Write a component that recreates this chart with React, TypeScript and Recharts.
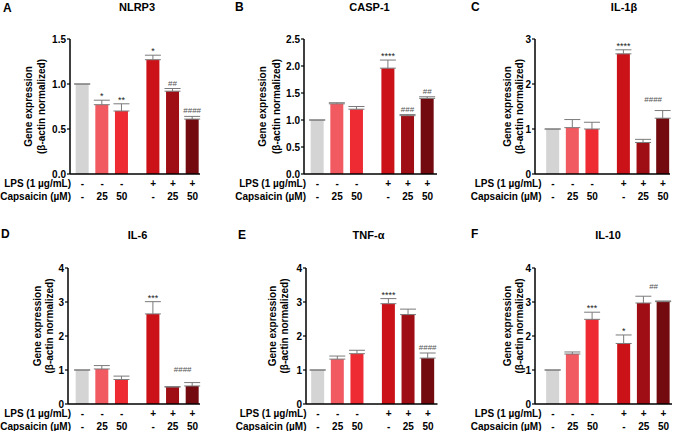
import React from 'react';
import { BarChart, Bar, XAxis, YAxis, ErrorBar, Cell, LabelList, ReferenceLine, ReferenceDot } from 'recharts';

// treatment rows shown under each x axis
const LPS = ['-', '-', '-', '+', '+', '+'];
const CAPSAICIN = ['-', '25', '50', '-', '25', '50'];
const BAR_COLORS = ['#d4d4d4', '#f25a61', '#ee2a32', '#cc1219', '#a00e15', '#720a0f'];

const nlrp3Mean = [1.0, 0.77, 0.70, 1.27, 0.92, 0.61];
const nlrp3Sem = [0, 0.05, 0.08, 0.05, 0.03, 0.03];
const nlrp3Sig = ['', '*', '**', '*', '##', '####'];
const nlrp3Ticks = [0, 0.5, 1.0, 1.5];

const casp1Mean = [1.0, 1.30, 1.20, 1.96, 1.08, 1.40];
const casp1Sem = [0, 0.02, 0.05, 0.15, 0.02, 0.03];
const casp1Sig = ['', '', '', '****', '###', '##'];
const casp1Ticks = [0, 0.5, 1.0, 1.5, 2.0, 2.5];

const il1bMean = [1.0, 1.03, 1.0, 2.67, 0.70, 1.24];
const il1bSem = [0, 0.18, 0.15, 0.09, 0.07, 0.17];
const il1bSig = ['', '', '', '****', '', ''];
const il1bTicks = [0, 1, 2, 3];

const il6Mean = [1.0, 1.03, 0.72, 2.65, 0.50, 0.53];
const il6Sem = [0, 0.10, 0.10, 0.36, 0.01, 0.10];
const il6Sig = ['', '', '', '***', '', ''];
const il6Ticks = [0, 1, 2, 3, 4];

const tnfaMean = [1.0, 1.32, 1.48, 2.95, 2.63, 1.35];
const tnfaSem = [0, 0.09, 0.10, 0.15, 0.16, 0.15];
const tnfaSig = ['', '', '', '****', '', '####'];
const tnfaTicks = [0, 1, 2, 3, 4];

const il10Mean = [1.0, 1.47, 2.49, 1.78, 2.97, 3.01];
const il10Sem = [0, 0.06, 0.21, 0.25, 0.20, 0.02];
const il10Sig = ['', '', '***', '*', '', ''];
const il10Ticks = [0, 1, 2, 3, 4];

// bracket over the two LPS + capsaicin groups
const il1bBracket = { y: 1.51, label: '####' };
const il6Bracket = { y: 0.83, label: '####' };
const il10Bracket = { y: 3.27, label: '##' };

const FONT = '"Liberation Sans", Arial, sans-serif';
const GROUP_GAP = 0.6;
const M_TOP = 15;
const M_LEFT = 45;
const M_RIGHT = 6;
const Y_W = 30;
const X_H = 34;

const xPos = (i: number) => i + (i >= 3 ? GROUP_GAP : 0);
const X_TICKS = LPS.map((_, i) => xPos(i));

const panels = [
  { letter: 'A', title: 'NLRP3', mean: nlrp3Mean, sem: nlrp3Sem, sig: nlrp3Sig, ticks: nlrp3Ticks, digits: 1,
    axisX: 70, first: 82.5, last: 192.5, right: 200, top: 39, bottom: 174,
    letterPos: [3, 12], titlePos: [137, 11], ylab: [28, 41, 106.5] },
  { letter: 'B', title: 'CASP-1', mean: casp1Mean, sem: casp1Sem, sig: casp1Sig, ticks: casp1Ticks, digits: 1,
    axisX: 304, first: 317.5, last: 427.5, right: 437, top: 39, bottom: 174,
    letterPos: [235, 11], titlePos: [369.5, 11], ylab: [262.5, 276, 106.5] },
  { letter: 'C', title: 'IL-1β', mean: il1bMean, sem: il1bSem, sig: il1bSig, ticks: il1bTicks, digits: 0, bracket: il1bBracket,
    axisX: 535, first: 553, last: 663, right: 670, top: 39, bottom: 174,
    letterPos: [471, 11], titlePos: [624, 11], ylab: [507, 519, 106.5] },
  { letter: 'D', title: 'IL-6', mean: il6Mean, sem: il6Sem, sig: il6Sig, ticks: il6Ticks, digits: 0, bracket: il6Bracket,
    axisX: 68, first: 82.5, last: 192.5, right: 200, top: 268, bottom: 404,
    letterPos: [1, 238], titlePos: [137.5, 239], ylab: [37, 49.5, 326] },
  { letter: 'E', title: 'TNF-α', mean: tnfaMean, sem: tnfaSem, sig: tnfaSig, ticks: tnfaTicks, digits: 0,
    axisX: 305.5, first: 317.5, last: 427.5, right: 437, top: 268, bottom: 404,
    letterPos: [238, 239], titlePos: [368.5, 239], ylab: [272, 284, 326] },
  { letter: 'F', title: 'IL-10', mean: il10Mean, sem: il10Sem, sig: il10Sig, ticks: il10Ticks, digits: 0, bracket: il10Bracket,
    axisX: 535, first: 553, last: 663.5, right: 672, top: 268, bottom: 404,
    letterPos: [471, 238], titlePos: [608, 239], ylab: [507.5, 519, 326] },
];

const ConditionTick = ({ x, y, index }: any) => (
  <g fontFamily={FONT} fontWeight="bold" fontSize={10} fill="#000">
    {index === 0 && (
      <>
        <text x={x - 11.5} y={y + 13} textAnchor="end">LPS (1 µg/mL)</text>
        <text x={x - 11.5} y={y + 25.5} textAnchor="end">Capsaicin (µM)</text>
      </>
    )}
    <text x={x} y={y + 13} textAnchor="middle">{LPS[index]}</text>
    <text x={x} y={y + 25.5} textAnchor="middle">{CAPSAICIN[index]}</text>
  </g>
);

function GenePanel({ p }: { p: (typeof panels)[number] }) {
  const data = p.mean.map((m, i) => ({ x: xPos(i), mean: m, err: [0, p.sem[i]], sig: p.sig[i] }));
  const plotW = p.right - p.axisX;
  const plotH = p.bottom - p.top;
  const yMax = p.ticks[p.ticks.length - 1];

  const renderSig = (props: any) => {
    const { x, y, width, height, index, value } = props;
    if (!value) return null;
    const errPx = p.mean[index] > 0 ? (p.sem[index] / p.mean[index]) * height : 0;
    const isStar = String(value).startsWith('*');
    return (
      <text x={x + width / 2} y={y - errPx - (isStar ? 1 : 3)} textAnchor="middle"
        fontFamily={FONT} fontSize={isStar ? 9 : 8} fill={isStar ? '#222' : '#555'}>
        {value}
      </text>
    );
  };

  return (
    <div style={{ position: 'absolute', left: p.axisX - Y_W - M_LEFT, top: p.top - M_TOP }}>
      <BarChart width={M_LEFT + Y_W + plotW + M_RIGHT} height={M_TOP + plotH + X_H} data={data}
        margin={{ top: M_TOP, right: M_RIGHT, bottom: 0, left: M_LEFT }}>
        <XAxis dataKey="x" type="number" domain={[0, X_TICKS[5]]} ticks={X_TICKS} interval={0}
          padding={{ left: p.first - p.axisX, right: p.right - p.last }} height={X_H}
          tickLine={false} tickSize={0} tickMargin={0} tick={<ConditionTick />}
          axisLine={{ stroke: '#000', strokeWidth: 1.5 }} />
        <YAxis width={Y_W} domain={[0, yMax]} ticks={p.ticks} interval={0}
          tickFormatter={(v: number) => v.toFixed(p.digits)} tickSize={3} tickMargin={1}
          tickLine={{ stroke: '#000', strokeWidth: 1.2 }} axisLine={{ stroke: '#000', strokeWidth: 1.5 }}
          tick={{ fontFamily: FONT, fontWeight: 'bold', fontSize: 10, fill: '#000' }} />
        <Bar dataKey="mean" barSize={13} isAnimationActive={false}>
          {data.map((_, i) => <Cell key={i} fill={BAR_COLORS[i]} />)}
          <ErrorBar dataKey="err" width={8} stroke="#7a7a7a" strokeWidth={1} />
          <LabelList dataKey="sig" content={renderSig} />
        </Bar>
        {p.bracket && (
          <ReferenceLine segment={[{ x: X_TICKS[4] - 0.3, y: p.bracket.y }, { x: X_TICKS[5] + 0.3, y: p.bracket.y }]}
            stroke="#9a9a9a" strokeWidth={0.8} />
        )}
        {p.bracket && (
          <ReferenceDot x={(X_TICKS[4] + X_TICKS[5]) / 2} y={p.bracket.y} r={0}
            shape={(s: any) => (
              <text x={s.cx} y={s.cy - 4} textAnchor="middle" fontFamily={FONT} fontSize={8} fill="#555">
                {p.bracket!.label}
              </text>
            )} />
        )}
      </BarChart>
    </div>
  );
}

export default function App() {
  return (
    <div style={{ position: 'absolute', left: 0, top: 0, width: 677, height: 431, background: '#fff', overflow: 'hidden' }}>
      {panels.map((p) => <GenePanel key={p.letter} p={p} />)}
      <svg width={677} height={431} style={{ position: 'absolute', left: 0, top: 0, pointerEvents: 'none' }}
        fontFamily={FONT} fontWeight="bold">
        {panels.map((p) => (
          <g key={p.letter}>
            <text x={p.letterPos[0]} y={p.letterPos[1]} fontSize={12}>{p.letter}</text>
            <text x={p.titlePos[0]} y={p.titlePos[1]} fontSize={11} textAnchor="middle">{p.title}</text>
            <text x={p.ylab[0]} y={p.ylab[2]} fontSize={10} textAnchor="middle" dominantBaseline="central"
              transform={`rotate(-90 ${p.ylab[0]} ${p.ylab[2]})`}>Gene expression</text>
            <text x={p.ylab[1]} y={p.ylab[2]} fontSize={10} textAnchor="middle" dominantBaseline="central"
              transform={`rotate(-90 ${p.ylab[1]} ${p.ylab[2]})`}>(β-actin normalized)</text>
          </g>
        ))}
      </svg>
    </div>
  );
}
